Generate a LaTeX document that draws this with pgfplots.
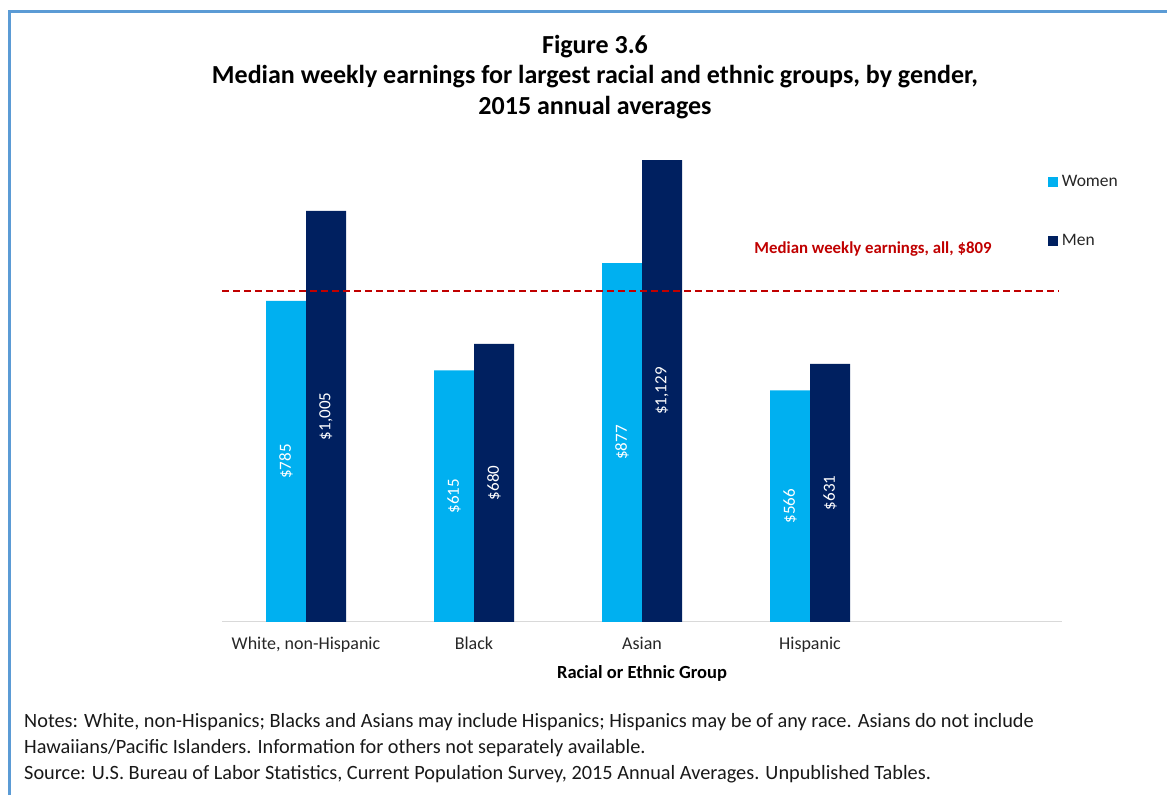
\documentclass[border=0pt]{standalone}
\usepackage{pgfplots}
\pgfplotsset{compat=1.18}
\usepackage{fontspec}
\setmainfont{Carlito}
\definecolor{women}{HTML}{00B0F0}
\definecolor{men}{HTML}{002060}
\definecolor{medred}{HTML}{C00000}
\definecolor{frameblue}{HTML}{5B9BD5}
\begin{document}
\begin{tikzpicture}[x=1pt,y=1pt]
\path[use as bounding box] (0,0) rectangle (1167,795);
\draw[frameblue, line width=3pt] (9.5,0) -- (9.5,783) -- (1167,783);
\node[align=center, font=\fontsize{26}{30.5}\selectfont\bfseries, anchor=center] at (595,718)
 {Figure 3.6\\Median weekly earnings for largest racial and ethnic groups, by gender,\\2015 annual averages};
\node[align=left, anchor=base west, inner sep=0pt, font=\fontsize{20.3}{25.5}\selectfont, text=black!90] at (24,16)
 {Notes: White, non-Hispanics; Blacks and Asians may include Hispanics; Hispanics may be of any race. Asians do not include\\Hawaiians/Pacific Islanders. Information for others not separately available.\\Source: U.S. Bureau of Labor Statistics, Current Population Survey, 2015 Annual Averages. Unpublished Tables.};
\begin{axis}[
  at={(222pt,173pt)}, anchor=south west,
  scale only axis, width=840pt, height=491pt,
  ybar=0pt, bar width=40pt,
  xmin=-0.5, xmax=4.5, ymin=0, ymax=1200,
  xtick={0,1,2,3},
  xticklabels={{White, non-Hispanic},Black,Asian,Hispanic},
  ytick=\empty,
  axis y line=none, axis x line*=bottom,
  x axis line style={draw=black!15, line width=1pt},
  major tick length=0pt,
  xticklabel style={font=\fontsize{18}{21}\selectfont, text=black!85, anchor=base, yshift=-28pt},
  xlabel={Racial or Ethnic Group},
  xlabel style={font=\fontsize{18.5}{21}\selectfont\bfseries, at={(axis description cs:0.5,-0.104)}, anchor=center},
  legend style={at={(axis description cs:0.983,0.914)}, anchor=north west, draw=none, fill=none,
    font=\fontsize{17.5}{20}\selectfont, text=black!85, row sep=42pt, inner sep=0pt,
    nodes={inner xsep=4pt}},
  legend cell align=left,
  legend image code/.code={\fill[#1] (0pt,-5pt) rectangle (10pt,5pt);},
  point meta=explicit symbolic,
  visualization depends on=y \as \rawy,
  nodes near coords style={font=\fontsize{17}{20}\selectfont, text=white},
]
\addplot[fill=women, draw=none, nodes near coords,
  every node near coord/.append style={shift={(axis direction cs:0,-\rawy/2)}, rotate=90, anchor=center}]
  coordinates {(0,785) [\$785] (1,615) [\$615] (2,877) [\$877] (3,566) [\$566]};
\addplot[fill=men, draw=none, nodes near coords,
  every node near coord/.append style={shift={(axis direction cs:0,-\rawy/2)}, rotate=90, anchor=center}]
  coordinates {(0,1005) [\$1{,}005] (1,680) [\$680] (2,1129) [\$1{,}129] (3,631) [\$631]};
\legend{Women,Men}
\addplot[sharp plot, medred, line width=2.5pt, dash pattern=on 7pt off 4pt, forget plot]
  coordinates {(-0.5,809) (4.48,809)};
\node[font=\fontsize{16.8}{20}\selectfont\bfseries, text=medred, anchor=center] at (axis cs:3.375,911) {Median weekly earnings, all, \$809};
\end{axis}
\end{tikzpicture}
\end{document}
